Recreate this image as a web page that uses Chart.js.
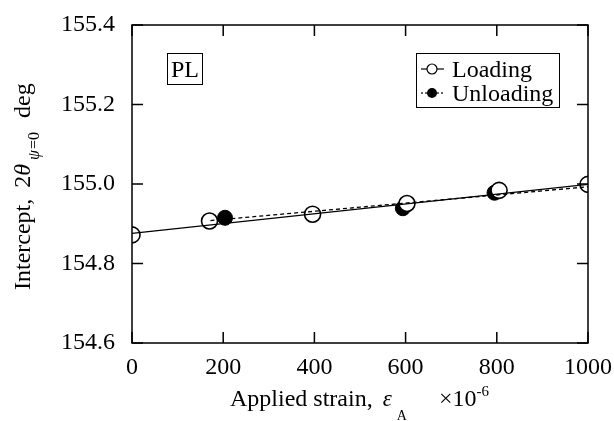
<!DOCTYPE html>
<html>
<head>
<meta charset="utf-8">
<script src="https://cdn.jsdelivr.net/npm/chart.js@4.4.1/dist/chart.umd.min.js"></script>
<style>
  html, body { margin: 0; padding: 0; background: #fff; }
  #wrap { width: 614px; height: 421px; }
</style>
</head>
<body>
<div id="wrap"><canvas id="myChart" width="614" height="421"></canvas></div>
<script>
// data
const loadStrain = [0, 170, 396, 603, 805, 1000];
const loadIntercept = [154.872, 154.907, 154.924, 154.951, 154.984, 154.999];
const unloadStrain = [204, 594, 795];
const unloadIntercept = [154.915, 154.939, 154.978];
// fitted lines (end points)
const loadFitStrain = [0, 1000];
const loadFitIntercept = [154.876, 154.999];
const unloadFitStrain = [172, 1000];
const unloadFitIntercept = [154.908, 154.993];

const xTicks = [0, 200, 400, 600, 800, 1000];
const yTicks = [154.6, 154.8, 155.0, 155.2, 155.4];

const serif = '"Liberation Serif", "Times New Roman", serif';
const toPts = (xs, ys) => xs.map((x, i) => ({ x: x, y: ys[i] }));

// frame with ticks pointing inward on all four sides
const framePlugin = {
  id: 'frame',
  afterDatasetsDraw(chart) {
    const { ctx, chartArea: a, scales } = chart;
    ctx.save();
    ctx.strokeStyle = '#000';
    ctx.lineWidth = 1.5;
    ctx.strokeRect(a.left, a.top, a.right - a.left, a.bottom - a.top);
    ctx.beginPath();
    xTicks.forEach((v) => {
      const px = scales.x.getPixelForValue(v);
      ctx.moveTo(px, a.bottom); ctx.lineTo(px, a.bottom - 11);
      ctx.moveTo(px, a.top); ctx.lineTo(px, a.top + 11);
    });
    yTicks.forEach((v) => {
      const py = scales.y.getPixelForValue(v);
      ctx.moveTo(a.left, py); ctx.lineTo(a.left + 11, py);
      ctx.moveTo(a.right, py); ctx.lineTo(a.right - 11, py);
    });
    ctx.stroke();
    ctx.restore();
  },
  afterDraw(chart) {
    const { ctx } = chart;
    ctx.save();
    ctx.fillStyle = '#000';
    ctx.strokeStyle = '#000';
    ctx.textBaseline = 'alphabetic';

    // PL box
    ctx.lineWidth = 1;
    ctx.strokeRect(167.5, 53.5, 35, 31);
    ctx.font = '24px ' + serif;
    ctx.textAlign = 'center';
    ctx.fillText('PL', 185, 77);

    // legend
    ctx.strokeRect(416.5, 53.5, 143, 54);
    ctx.textAlign = 'left';
    ctx.lineWidth = 1.2;
    ctx.beginPath(); ctx.moveTo(421, 69); ctx.lineTo(444, 69); ctx.stroke();
    ctx.beginPath(); ctx.arc(432, 69, 5, 0, Math.PI * 2);
    ctx.fillStyle = '#fff'; ctx.fill(); ctx.stroke();
    ctx.fillStyle = '#000';
    ctx.fillText('Loading', 452, 77);
    ctx.setLineDash([2, 2]);
    ctx.beginPath(); ctx.moveTo(421, 93); ctx.lineTo(444, 93); ctx.stroke();
    ctx.setLineDash([]);
    ctx.beginPath(); ctx.arc(432, 93, 5, 0, Math.PI * 2); ctx.fill();
    ctx.fillText('Unloading', 452, 101);

    // x title
    ctx.font = '24px ' + serif;
    let x = 230;
    const yb = 406;
    ctx.fillText('Applied strain,', x, yb);
    x += ctx.measureText('Applied strain,').width + 10;
    ctx.font = 'italic 23px ' + serif;
    ctx.fillText('\u03b5', x, yb);
    x += ctx.measureText('\u03b5').width + 5;
    ctx.font = '14px ' + serif;
    ctx.fillText('A', x, yb + 14);
    x = 439;
    ctx.font = '24px ' + serif;
    ctx.fillText('\u00d710', x, yb);
    x += ctx.measureText('\u00d710').width;
    ctx.font = '15px ' + serif;
    ctx.fillText('-6', x, yb - 10);

    // y title (rotated)
    ctx.translate(30, 290);
    ctx.rotate(-Math.PI / 2);
    let t = 0;
    ctx.font = '24px ' + serif;
    ctx.fillText('Intercept,', t, 0);
    t += ctx.measureText('Intercept,').width + 11;
    ctx.fillText('2', t, 0);
    t += ctx.measureText('2').width;
    ctx.font = 'italic 24px ' + serif;
    ctx.fillText('\u03b8', t, 0);
    t += ctx.measureText('\u03b8').width + 4;
    ctx.font = 'italic 16px ' + serif;
    ctx.fillText('\u03c8', t, 9);
    t += ctx.measureText('\u03c8').width + 1;
    ctx.font = '16px ' + serif;
    ctx.fillText('=0', t, 9);
    t += ctx.measureText('=0').width + 14;
    ctx.font = '24px ' + serif;
    ctx.fillText('deg', t, 0);
    ctx.restore();
  }
};

const ctx = document.getElementById('myChart').getContext('2d');
const myChart = new Chart(ctx, {
  type: 'scatter',
  data: {
    datasets: [
      {
        label: 'Loading fit',
        data: toPts(loadFitStrain, loadFitIntercept),
        showLine: true,
        borderColor: '#000',
        borderWidth: 1.3,
        pointRadius: 0,
      },
      {
        label: 'Unloading fit',
        data: toPts(unloadFitStrain, unloadFitIntercept),
        showLine: true,
        borderColor: '#000',
        borderWidth: 1.3,
        borderDash: [4, 3],
        pointRadius: 0,
      },
      {
        label: 'Loading',
        data: toPts(loadStrain, loadIntercept),
        showLine: false,
        pointRadius: 8,
        pointBackgroundColor: '#fff',
        pointBorderColor: '#000',
        pointBorderWidth: 1.6,
      },
      {
        label: 'Unloading',
        data: toPts(unloadStrain, unloadIntercept),
        showLine: false,
        pointRadius: 7.5,
        pointBackgroundColor: '#000',
        pointBorderColor: '#000',
        pointBorderWidth: 1,
      },
    ],
  },
  options: {
    responsive: false,
    animation: false,
    layout: { padding: { top: 25, right: 25, left: 0, bottom: 0 } },
    plugins: {
      legend: { display: false },
      tooltip: { enabled: false },
    },
    scales: {
      x: {
        type: 'linear',
        min: 0,
        max: 1000,
        afterBuildTicks: (scale) => { scale.ticks = xTicks.map((v) => ({ value: v })); },
        afterFit: (scale) => { scale.height = 421 - 343; },
        grid: { display: false },
        border: { display: false },
        ticks: {
          color: '#000',
          padding: 2,
          maxRotation: 0,
          font: { family: serif, size: 24 },
          callback: (v) => String(v),
        },
      },
      y: {
        type: 'linear',
        min: 154.6,
        max: 155.4,
        afterBuildTicks: (scale) => { scale.ticks = yTicks.map((v) => ({ value: v })); },
        afterFit: (scale) => { scale.width = 132; },
        grid: { display: false },
        border: { display: false },
        ticks: {
          color: '#000',
          padding: 9,
          font: { family: serif, size: 24 },
          callback: (v) => v.toFixed(1),
        },
      },
    },
  },
  plugins: [framePlugin],
});
</script>
</body>
</html>
